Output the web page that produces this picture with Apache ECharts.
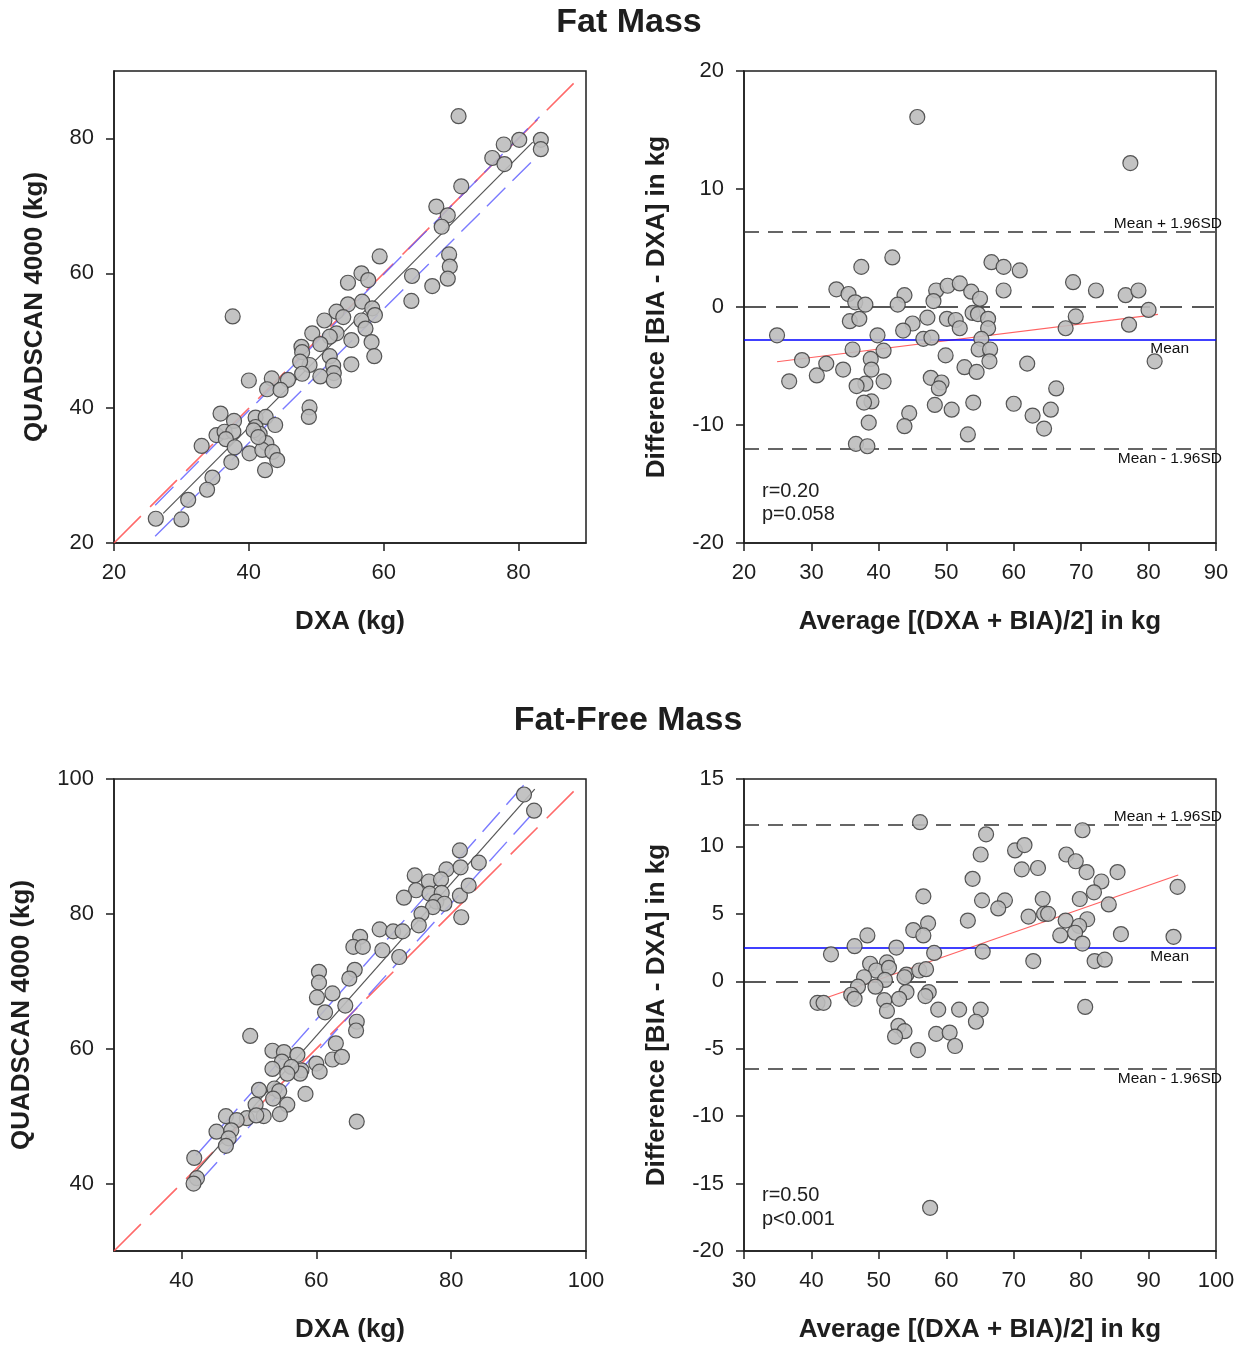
<!DOCTYPE html>
<html>
<head>
<meta charset="utf-8">
<script src="https://cdn.jsdelivr.net/npm/echarts@6.0.0/dist/echarts.min.js"></script>
<style>
html,body{margin:0;padding:0;background:#fff;}
#chart{width:1242px;height:1347px;}
</style>
</head>
<body>
<div id="chart"></div>
<script>
// ---------- Fat Mass: QUADSCAN vs DXA ----------
const fmDXA  = [71.1,77.8,80.1,83.3,83.3,76.1,77.9,71.5,67.8,69.5,68.6,69.7,69.8,69.5,67.2,64.2,64.1,59.4,56.7,57.7,54.7,54.7,56.8,53.0,58.3,58.7,56.7,54.0,51.2,57.3,53.0,49.4,52.0,55.2,58.2,50.6,47.8,47.9,52.0,58.6,55.2,52.5,49.0,47.6,52.6,47.9,50.6,52.6,45.8,43.4,40.0,42.7,44.7,49.0,48.9,37.6,35.8,37.8,41.0,42.5,43.9,41.0,41.6,35.2,36.4,37.7,36.6,33.0,37.9,42.6,40.1,42.0,43.5,44.2,37.4,42.4,34.6,33.8,31.0,26.2,30.0,40.7,41.4];
const fmQuad = [83.3,79.1,79.8,79.8,78.4,77.1,76.2,72.9,69.9,68.6,66.9,62.8,61.0,59.2,58.1,59.6,55.9,62.5,60.0,59.0,58.6,55.4,55.8,54.3,54.8,53.8,53.0,53.5,53.0,51.8,51.1,51.1,50.6,50.1,49.8,49.5,49.1,48.3,47.7,47.7,46.5,46.3,46.4,46.9,45.2,45.1,44.7,44.1,44.2,44.4,44.1,42.8,42.7,40.1,38.7,53.6,39.2,38.1,38.6,38.7,37.5,37.2,36.2,36.0,36.5,36.5,35.4,34.4,34.2,34.8,33.3,33.8,33.5,32.3,32.0,30.8,29.7,27.9,26.4,23.6,23.5,36.7,35.7];
const fmIdentity = [[20,20],[88.5,88.5]];
const fmFit      = [[27.3,24.4],[82.1,79.45]];
const fmBandUp   = [[26.1,25.6],[83.1,83.2]];
const fmBandLo   = [[26.1,21.0],[83.1,77.7]];

// ---------- Fat Mass: Bland-Altman ----------
const fmAvg  = [45.7,77.3,42.0,37.4,56.7,58.5,60.9,33.7,35.5,36.5,38.0,43.8,42.8,48.5,48.1,50.2,52.0,53.7,55.0,58.5,68.8,72.2,76.6,78.5,80.0,77.1,69.2,67.7,53.9,54.7,56.2,50.1,51.4,52.0,56.2,55.2,47.2,45.0,43.6,35.7,37.1,24.9,39.8,46.6,47.8,36.1,40.7,54.8,56.5,56.4,49.9,38.8,28.6,32.2,34.7,38.9,62.0,52.7,54.5,80.9,30.8,26.7,40.7,38.0,36.7,47.7,49.3,48.9,66.3,38.9,37.8,48.3,50.8,54.0,60.0,65.5,62.8,44.5,38.5,43.8,64.5,53.2,36.6,38.3];
const fmDiff = [16.1,12.2,4.2,3.4,3.8,3.4,3.1,1.5,1.1,0.4,0.2,1.0,0.2,1.4,0.5,1.8,2.0,1.3,0.7,1.4,2.1,1.4,1.0,1.4,-0.25,-1.5,-0.8,-1.8,-0.5,-0.6,-1.0,-1.0,-1.1,-1.8,-1.8,-2.7,-0.9,-1.4,-2.0,-1.2,-1.0,-2.4,-2.4,-2.7,-2.6,-3.6,-3.7,-3.6,-3.6,-4.6,-4.1,-4.4,-4.5,-4.8,-5.3,-5.3,-4.8,-5.1,-5.5,-4.6,-5.8,-6.3,-6.3,-6.5,-6.7,-6.0,-6.4,-6.9,-6.9,-8.0,-8.1,-8.3,-8.7,-8.1,-8.2,-8.7,-9.2,-9.0,-9.8,-10.1,-10.3,-10.8,-11.6,-11.8];
const fmMean = -2.8, fmUpper = 6.4, fmLower = -12.0;
const fmBaFit = [[24.9,-4.64],[81.4,-0.62]];
const fmStats = ['r=0.20','p=0.058'];

// ---------- Fat-Free Mass: QUADSCAN vs DXA ----------
const ffmDXA  = [90.8,92.3,81.3,84.1,79.3,81.4,74.6,76.7,78.5,74.8,76.8,78.6,73.0,77.8,79.0,77.3,81.3,82.6,75.6,75.2,81.5,69.4,71.4,72.8,66.5,65.5,66.9,69.8,72.3,60.4,65.7,64.9,60.4,62.4,60.1,64.3,61.3,66.0,65.9,50.2,62.9,62.4,63.8,53.5,55.2,57.2,54.9,53.5,60.0,60.5,57.8,57.6,56.3,55.7,58.4,51.5,53.8,54.5,53.6,51.0,55.7,54.6,52.2,49.7,51.1,46.6,48.2,45.2,47.4,47.0,46.6,66.0,41.9,42.3,41.8];
const ffmQuad = [97.7,95.3,89.4,87.6,86.6,86.9,85.7,84.8,85.1,83.5,83.0,83.1,82.4,81.8,81.5,81.0,82.7,84.2,80.0,78.3,79.5,77.7,77.4,77.4,76.6,75.1,75.1,74.6,73.6,71.4,71.7,70.4,69.8,68.2,67.6,66.4,65.4,64.0,62.7,61.9,60.8,58.4,58.8,59.7,59.5,59.1,58.1,57.0,57.8,56.6,56.8,56.3,57.3,56.3,53.3,53.9,54.1,53.7,52.6,51.7,51.7,50.3,50.0,49.7,50.1,50.0,49.4,47.7,47.9,46.7,45.6,49.2,43.8,40.8,40.0];
const ffmIdentity = [[30,30],[98.5,98.5]];
const ffmFit      = [[41.75,41.3],[92.4,98.5]];
const ffmBandUp   = [[42.2,44.2],[91.4,99.8]];
const ffmBandLo   = [[42.7,40.3],[92.9,95.8]];

// ---------- Fat-Free Mass: Bland-Altman ----------
const ffmAvg  = [56.1,65.9,80.2,65.1,70.2,71.6,77.8,79.2,80.8,85.4,71.2,73.6,63.9,83.0,81.9,94.3,56.6,65.3,68.7,67.7,74.3,79.8,84.1,72.2,74.5,75.1,63.2,77.7,80.9,79.7,79.1,76.9,85.9,80.2,93.7,57.3,55.1,56.6,48.3,46.4,52.6,42.9,58.2,65.4,72.9,82.0,83.5,48.7,51.2,49.6,51.5,47.8,50.9,54.1,53.8,56.0,57.0,49.5,46.9,45.9,46.4,40.9,41.8,54.1,57.4,56.9,50.8,53.0,51.2,58.8,61.9,65.1,64.4,80.6,52.9,53.8,52.4,58.5,60.5,61.3,55.8,57.6];
const ffmDiff = [11.8,10.9,11.2,9.4,9.7,10.1,9.4,8.9,8.1,8.1,8.3,8.4,7.6,7.4,6.6,7.0,6.3,6.0,6.0,5.4,6.1,6.1,5.7,4.8,5.0,5.0,4.5,4.5,4.6,4.1,3.6,3.4,3.5,2.8,3.3,4.3,3.8,3.4,3.4,2.6,2.5,2.0,2.1,2.2,1.5,1.5,1.6,1.3,1.4,0.8,1.0,0.3,0.1,0.5,0.3,0.8,0.9,-0.4,-0.4,-1.0,-1.3,-1.6,-1.6,-0.8,-0.8,-1.1,-1.4,-1.3,-2.2,-2.1,-2.1,-2.1,-3.0,-1.9,-3.3,-3.7,-4.1,-3.9,-3.8,-4.8,-5.1,-16.8];
const ffmMean = 2.47, ffmUpper = 11.6, ffmLower = -6.5;
const ffmBaFit = [[42.0,-1.26],[94.4,7.88]];
const ffmStats = ['r=0.50','p<0.001'];

// ---------- tick values ----------
const fmScatTicks  = [20,40,60,80];
const ffmScatTicks = [40,60,80,100];

// ---------- build ----------
const FONT = '"Liberation Sans", Arial, sans-serif';
const INK = '#1e1e1e';
const zip = (a,b) => a.map((v,i)=>[v,b[i]]);

const grids = [
  {left:114, top:71,  width:472, height:472},
  {left:744, top:71,  width:472, height:472},
  {left:114, top:779, width:472, height:472},
  {left:744, top:779, width:472, height:472}
].map(g => Object.assign(g, {show:true, borderColor:INK, borderWidth:1.5, backgroundColor:'transparent'}));

function axis(gi, o){
  const a = {
    gridIndex: gi, type:'value', min:o.min, max:o.max,
    name:o.name, nameLocation:'middle', nameGap:o.gap,
    nameTextStyle:{fontFamily:FONT, fontWeight:'bold', fontSize:26, color:INK},
    axisLine:{show:true, onZero:false, lineStyle:{color:INK, width:1.5}},
    axisTick:{show:true, inside:false, length:8, lineStyle:{color:INK, width:1.5}},
    axisLabel:{fontFamily:FONT, fontSize:22, color:INK, margin:o.margin},
    splitLine:{show:false}
  };
  if (o.interval) a.interval = o.interval;
  if (o.ticks){
    a.axisLabel.customValues = o.ticks;
    a.axisTick.customValues = o.ticks;
  }
  return a;
}

const xAxes = [
  axis(0,{min:20,max:90,ticks:fmScatTicks,name:'DXA (kg)',gap:66,margin:19}),
  axis(1,{min:20,max:90,interval:10,name:'Average [(DXA + BIA)/2] in kg',gap:66,margin:19}),
  axis(2,{min:30,max:100,ticks:ffmScatTicks,name:'DXA (kg)',gap:66,margin:19}),
  axis(3,{min:30,max:100,interval:10,name:'Average [(DXA + BIA)/2] in kg',gap:66,margin:19})
];
const yAxes = [
  axis(0,{min:20,max:90,ticks:fmScatTicks,name:'QUADSCAN 4000 (kg)',gap:66,margin:20}),
  axis(1,{min:-20,max:20,interval:10,name:'Difference [BIA - DXA] in kg',gap:74,margin:20}),
  axis(2,{min:30,max:100,ticks:ffmScatTicks,name:'QUADSCAN 4000 (kg)',gap:79,margin:20}),
  axis(3,{min:-20,max:15,interval:5,name:'Difference [BIA - DXA] in kg',gap:74,margin:20})
];

function pts(i, data){
  return {type:'scatter', xAxisIndex:i, yAxisIndex:i, data:data, symbol:'circle', symbolSize:15, z:5,
    itemStyle:{color:'#bdbdbd', borderColor:'#454545', borderWidth:1.2, opacity:0.9}, silent:true};
}
function seg(i, data, color, dash, width, z){
  return {type:'line', xAxisIndex:i, yAxisIndex:i, data:data, symbol:'none', silent:true, z:z||3,
    lineStyle:{color:color, type:dash, width:width}};
}
function baLines(i, mean, up, lo){
  const lab = (txt, pos, dist) => ({show:true, formatter:txt, position:pos, distance:dist,
    fontFamily:FONT, fontSize:15.5, color:'#111'});
  return {type:'line', xAxisIndex:i, yAxisIndex:i, data:[], silent:true, z:2,
    markLine:{symbol:'none', silent:true, animation:false, data:[
      {yAxis:0, lineStyle:{color:'#222', type:[22,10], width:1.5}, label:{show:false}},
      {yAxis:up, lineStyle:{color:'#333', type:[15,9], width:1.5}, label:lab('Mean + 1.96SD','insideEndTop',[-6,0])},
      {yAxis:mean, lineStyle:{color:'#0000ff', type:'solid', width:1.5}, label:lab('Mean','insideEndBottom',[27,1])},
      {yAxis:lo, lineStyle:{color:'#333', type:[15,9], width:1.5}, label:lab('Mean - 1.96SD','insideEndBottom',[-6,2])}
    ]}};
}

const series = [
  seg(0, fmIdentity, 'rgba(255,80,80,0.85)', [38,13], 1.6),
  seg(0, fmBandUp, 'rgba(90,90,255,0.8)', [26,10], 1.4),
  seg(0, fmBandLo, 'rgba(90,90,255,0.8)', [26,10], 1.4),
  seg(0, fmFit, '#555', 'solid', 1.2),
  pts(0, zip(fmDXA, fmQuad)),

  baLines(1, fmMean, fmUpper, fmLower),
  seg(1, fmBaFit, 'rgba(255,70,70,0.85)', 'solid', 1.2, 4),
  pts(1, zip(fmAvg, fmDiff)),

  seg(2, ffmIdentity, 'rgba(255,80,80,0.85)', [38,13], 1.6),
  seg(2, ffmBandUp, 'rgba(90,90,255,0.8)', [26,10], 1.4),
  seg(2, ffmBandLo, 'rgba(90,90,255,0.8)', [26,10], 1.4),
  seg(2, ffmFit, '#555', 'solid', 1.2),
  pts(2, zip(ffmDXA, ffmQuad)),

  baLines(3, ffmMean, ffmUpper, ffmLower),
  seg(3, ffmBaFit, 'rgba(255,70,70,0.85)', 'solid', 1.2, 4),
  pts(3, zip(ffmAvg, ffmDiff))
];

const txt = (x, y, s, size, bold, align) => ({type:'text', x:x, y:y, z:100, silent:true,
  style:{text:s, fill:INK, font:(bold?'bold ':'')+size+'px '+FONT, align:align||'left', verticalAlign:'middle'}});

const chart = echarts.init(document.getElementById('chart'), null, {renderer:'canvas'});
chart.setOption({
  animation:false,
  backgroundColor:'#fff',
  grid:grids, xAxis:xAxes, yAxis:yAxes, series:series,
  graphic:[
    txt(629, 23, 'Fat Mass', 34, true, 'center'),
    txt(628, 721, 'Fat-Free Mass', 34, true, 'center'),
    txt(762, 491, fmStats[0], 20, false),
    txt(762, 514, fmStats[1], 20, false),
    txt(762, 1195, ffmStats[0], 20, false),
    txt(762, 1219, ffmStats[1], 20, false)
  ]
});
</script>
</body>
</html>
